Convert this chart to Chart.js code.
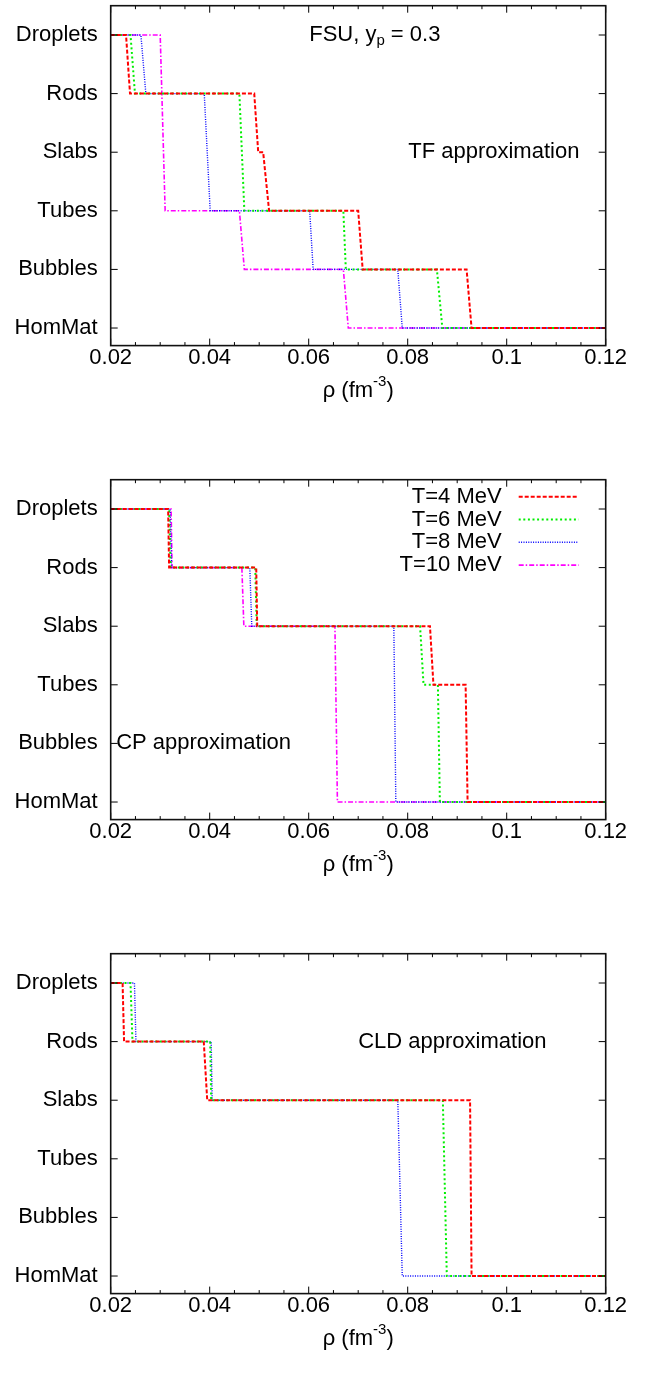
<!DOCTYPE html>
<html><head><meta charset="utf-8">
<script src="https://cdn.jsdelivr.net/npm/chart.js@4.4.0/dist/chart.umd.min.js"></script>
<style>
html,body{margin:0;padding:0;background:#fff;}
body{width:656px;height:1377px;position:relative;overflow:hidden;}
.p{position:absolute;left:0;width:656px;}
canvas{display:block;}
</style></head><body>
<div class="p" style="top:0;height:474px"><canvas id="c1" width="656" height="474"></canvas></div>
<div class="p" style="top:474px;height:474px"><canvas id="c2" width="656" height="474"></canvas></div>
<div class="p" style="top:948px;height:429px"><canvas id="c3" width="656" height="429"></canvas></div>
<script>
// ---- categories / ticks ----
const phases = ['HomMat','Bubbles','Tubes','Slabs','Rods','Droplets'];
const xTickValues = [0.02,0.04,0.06,0.08,0.1,0.12];
const xTickLabels = ['0.02','0.04','0.06','0.08','0.1','0.12'];
const tempLabels = ['T=4 MeV','T=6 MeV','T=8 MeV','T=10 MeV'];

// ---- TF approximation (rho in fm^-3, phase index) ----
const tfRhoT4   = [0.02,0.0231,0.0239,0.0490,0.0498,0.0508,0.0520,0.0700,0.0709,0.0919,0.0929,0.12];
const tfPhaseT4 = [5,5,4,4,3,3,2,2,1,1,0,0];
const tfRhoT6   = [0.02,0.0240,0.0249,0.0460,0.0470,0.0670,0.0675,0.0859,0.0870,0.12];
const tfPhaseT6 = [5,5,4,4,2,2,1,1,0,0];
const tfRhoT8   = [0.02,0.0261,0.0271,0.0389,0.0401,0.0602,0.0609,0.0780,0.0789,0.12];
const tfPhaseT8 = [5,5,4,4,2,2,1,1,0,0];
const tfRhoT10  = [0.02,0.0300,0.0310,0.0460,0.0470,0.0670,0.0680,0.12];
const tfPhaseT10= [5,5,2,2,1,1,0,0];

// ---- CP approximation ----
const cpRhoT4   = [0.02,0.0316,0.0318,0.0494,0.0496,0.0845,0.0852,0.0917,0.0921,0.12];
const cpPhaseT4 = [5,5,4,4,3,3,2,2,0,0];
const cpRhoT6   = [0.02,0.0318,0.0321,0.0492,0.0495,0.0825,0.0832,0.0861,0.0865,0.12];
const cpPhaseT6 = [5,5,4,4,3,3,2,2,0,0];
const cpRhoT8   = [0.02,0.0320,0.0323,0.0481,0.0485,0.0772,0.0776,0.12];
const cpPhaseT8 = [5,5,4,4,3,3,0,0];
const cpRhoT10  = [0.02,0.0322,0.0324,0.0465,0.0469,0.0653,0.0658,0.12];
const cpPhaseT10= [5,5,4,4,3,3,0,0];

// ---- CLD approximation ----
const cldRhoT4   = [0.02,0.0224,0.0227,0.0388,0.0395,0.0926,0.0929,0.12];
const cldPhaseT4 = [5,5,4,4,3,3,0,0];
const cldRhoT6   = [0.02,0.0240,0.0244,0.0401,0.0403,0.0871,0.0879,0.12];
const cldPhaseT6 = [5,5,4,4,3,3,0,0];
const cldRhoT8   = [0.02,0.0248,0.0251,0.0403,0.0405,0.0780,0.0789,0.12];
const cldPhaseT8 = [5,5,4,4,3,3,0,0];

// ---- styles ----
const FONT = '"Liberation Sans", Arial, Helvetica, sans-serif';
const styles = [
  {color:'#ff0000', dash:[4,2], width:2},
  {color:'#00ee00', dash:[2,2.6], width:2},
  {color:'#0000ff', dash:[1,1.4], width:1.4},
  {color:'#ff00ff', dash:[5,2,1.5,2], width:1.6}
];

function ds(i, rho, ph){
  return {
    label: tempLabels[i],
    data: rho.map((r,k)=>({x:r, y:ph[k]})),
    borderColor: styles[i].color,
    borderDash: styles[i].dash,
    borderWidth: styles[i].width,
    pointRadius: 0, fill:false, tension:0, showLine:true
  };
}

function text(ctx, parts, x, y){
  let cx = x;
  for (const p of parts){
    ctx.font = p.size + 'px ' + FONT;
    ctx.fillText(p.t, cx, y + (p.dy||0));
    cx += ctx.measureText(p.t).width;
  }
  return cx - x;
}
function measure(ctx, parts){
  let w=0; for(const p of parts){ctx.font=p.size+'px '+FONT; w+=ctx.measureText(p.t).width;} return w;
}

const framePlugin = {
  id:'frame',
  afterDatasetsDraw(chart, args, opts){
    const ctx = chart.ctx, a = chart.chartArea, xs = chart.scales.x, ys = chart.scales.y;
    ctx.save();
    ctx.strokeStyle = '#000'; ctx.lineWidth = 1;
    ctx.setLineDash([]);
    for (let k = 0; k <= 20; k++){
      const v = 0.02 + k*0.005;
      const px = xs.getPixelForValue(v);
      const L = (k % 4 === 0) ? 7 : 3.5;
      ctx.beginPath(); ctx.moveTo(px, a.bottom); ctx.lineTo(px, a.bottom - L);
      ctx.moveTo(px, a.top); ctx.lineTo(px, a.top + L); ctx.stroke();
    }
    phases.forEach((p,i)=>{
      const py = ys.getPixelForValue(i);
      ctx.beginPath(); ctx.moveTo(a.left, py); ctx.lineTo(a.left + 7, py);
      ctx.moveTo(a.right, py); ctx.lineTo(a.right - 7, py); ctx.stroke();
    });
    ctx.lineWidth = 1.6; ctx.strokeStyle = '#111';
    ctx.strokeRect(a.left, a.top, a.right - a.left, a.bottom - a.top);
    ctx.fillStyle = '#000'; ctx.textBaseline = 'middle'; ctx.textAlign = 'left';
    (opts.notes||[]).forEach(n=>{
      text(ctx, n.parts, xs.getPixelForValue(n.x), ys.getPixelForValue(n.y));
    });
    const tparts = [{t:'\u03C1 (fm',size:22},{t:'-3',size:15,dy:-9},{t:')',size:22}];
    const tw = measure(ctx, tparts);
    text(ctx, tparts, (a.left + a.right)/2 - tw/2, a.bottom + 45);
    if (opts.legend){
      ctx.textAlign = 'right';
      chart.data.datasets.forEach((d,i)=>{
        const y = a.top + 17 + i*22.8;
        ctx.font = '22px ' + FONT; ctx.fillStyle = '#000';
        ctx.fillText(d.label, a.left + 391, y);
        ctx.beginPath(); ctx.strokeStyle = d.borderColor; ctx.lineWidth = d.borderWidth;
        ctx.setLineDash(d.borderDash);
        ctx.moveTo(a.left + 408, y); ctx.lineTo(a.left + 468, y); ctx.stroke();
      });
    }
    ctx.restore();
  }
};

const TOP = 5.7, BOTTOM = 345.6;
function zeroPad(s){ s.paddingTop = 0; s.paddingBottom = 0; s.paddingLeft = 0; s.paddingRight = 0; }

function makeChart(id, H, datasets, notes, legend){
  new Chart(document.getElementById(id), {
    type:'scatter',
    data:{datasets},
    options:{
      responsive:false, animation:false, devicePixelRatio:1,
      layout:{padding:{top:TOP, right:50.3, left:0, bottom:0}},
      plugins:{legend:{display:false}, tooltip:{enabled:false}, frame:{notes, legend}},
      scales:{
        x:{type:'linear', min:0.02, max:0.12,
           afterBuildTicks:s=>{s.ticks = xTickValues.map(v=>({value:v}));},
           afterFit:s=>{s.height = H - BOTTOM; zeroPad(s);},
           grid:{display:false, drawTicks:false, tickLength:0}, border:{display:false},
           ticks:{callback:(v,i)=>xTickLabels[i], color:'#000', font:{family:FONT,size:22},
                  padding:-1, maxRotation:0, autoSkip:false}},
        y:{type:'linear', min:-0.3, max:5.5,
           afterBuildTicks:s=>{s.ticks = phases.map((p,i)=>({value:i}));},
           afterFit:s=>{s.width = 110.7; zeroPad(s);},
           grid:{display:false, drawTicks:false, tickLength:0}, border:{display:false},
           ticks:{callback:(v)=>phases[v], color:'#000', font:{family:FONT,size:22},
                  padding:13, autoSkip:false}}
      }
    },
    plugins:[framePlugin]
  });
}

makeChart('c1', 474, [
  ds(0,tfRhoT4,tfPhaseT4), ds(1,tfRhoT6,tfPhaseT6), ds(2,tfRhoT8,tfPhaseT8), ds(3,tfRhoT10,tfPhaseT10)
], [
  {x:0.0601, y:5, parts:[{t:'FSU, y',size:22},{t:'p',size:15,dy:6},{t:' = 0.3',size:22}]},
  {x:0.0801, y:3, parts:[{t:'TF approximation',size:22}]}
], false);

makeChart('c2', 474, [
  ds(0,cpRhoT4,cpPhaseT4), ds(1,cpRhoT6,cpPhaseT6), ds(2,cpRhoT8,cpPhaseT8), ds(3,cpRhoT10,cpPhaseT10)
], [
  {x:0.0211, y:1, parts:[{t:'CP approximation',size:22}]}
], true);

makeChart('c3', 429, [
  ds(0,cldRhoT4,cldPhaseT4), ds(1,cldRhoT6,cldPhaseT6), ds(2,cldRhoT8,cldPhaseT8)
], [
  {x:0.0700, y:4, parts:[{t:'CLD approximation',size:22}]}
], false);
</script>
</body></html>
